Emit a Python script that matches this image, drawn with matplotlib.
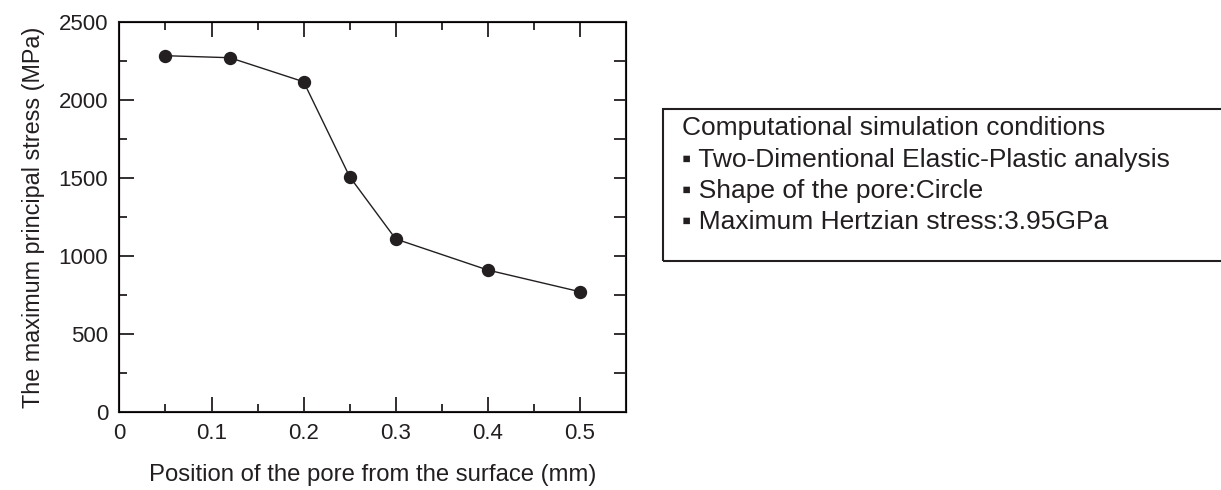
import matplotlib
matplotlib.use("Agg")
import matplotlib.pyplot as plt
from matplotlib.patches import Rectangle

plt.rcParams['font.family'] = ['Liberation Sans', 'DejaVu Sans']

depth = [0.05, 0.12, 0.2, 0.25, 0.3, 0.4, 0.5]
stress = [2284, 2271, 2117, 1508, 1109, 910, 771]
xticks = [0, 0.1, 0.2, 0.3, 0.4, 0.5]
xticklabels = ['0', '0.1', '0.2', '0.3', '0.4', '0.5']
yticks = [0, 500, 1000, 1500, 2000, 2500]
box_lines = ["Computational simulation conditions",
             "\u25aa Two-Dimentional Elastic-Plastic analysis",
             "\u25aa Shape of the pore:Circle",
             "\u25aa Maximum Hertzian stress:3.95GPa"]

C = '#231f20'
W, H = 1221, 490
fig = plt.figure(figsize=(W/100, H/100), dpi=100)
ax = fig.add_axes([119.4/W, (H-412)/H, (626-119.4)/W, (412-22)/H])
ax.plot(depth, stress, '-o', color=C, lw=1.0, markersize=8.6)
ax.set_xlim(0, 0.55)
ax.set_ylim(0, 2500)
ax.set_xticks(xticks)
ax.set_xticklabels(xticklabels)
ax.set_xticks([0.05, 0.15, 0.25, 0.35, 0.45, 0.55], minor=True)
ax.set_yticks(yticks)
ax.set_yticks([250, 750, 1250, 1750, 2250], minor=True)
ax.tick_params(which='both', direction='in', top=True, right=False, colors=C,
               labelsize=16, width=1.3, pad=8)
ax.tick_params(which='major', length=11)
ax.tick_params(which='minor', length=6)
for s in ax.spines.values():
    s.set_color(C)
    s.set_linewidth(1.5)
ax2 = ax.twinx()
ax2.set_ylim(0, 2500)
ax2.set_yticks([250, 500, 750, 1000, 1250, 1500, 1750, 2000, 2250])
ax2.tick_params(direction='in', length=9, width=1.3, colors=C, labelright=False)
ax.set_xlabel("Position of the pore from the surface (mm)", fontsize=17.2, color=C, labelpad=14)
ax.set_ylabel("The maximum principal stress (MPa)", fontsize=16.8, color=C, labelpad=10)

fig.patches.append(Rectangle((663/W, (H-261)/H), (1240-663)/W, (261-109)/H,
                             transform=fig.transFigure, fill=False, edgecolor=C, lw=1.5))
ys = [128, 160, 191, 222]
for t, y in zip(box_lines, ys):
    fig.text(682/W, (H-y)/H, t, fontsize=19, color=C, va='center', ha='left')

fig.savefig('out.png', dpi=100)
